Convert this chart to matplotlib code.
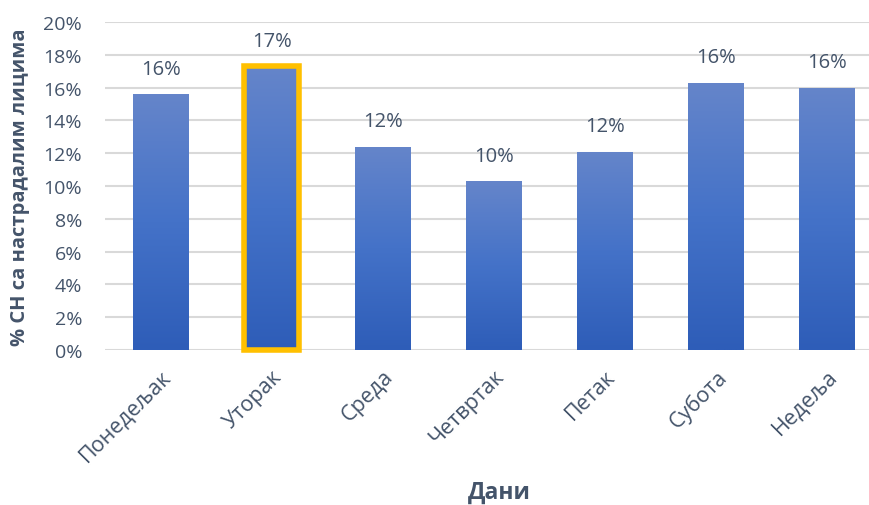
import matplotlib
matplotlib.use("Agg")
import matplotlib.pyplot as plt
import matplotlib.transforms as mtransforms
import numpy as np
from matplotlib.colors import LinearSegmentedColormap
from matplotlib.patches import Rectangle

days = ["Понедељак", "Уторак", "Среда", "Четвртак", "Петак", "Субота", "Недеља"]
values = [0.156, 0.173, 0.124, 0.103, 0.121, 0.163, 0.160]
labels = ["16%", "17%", "12%", "10%", "12%", "16%", "16%"]
highlight = 1

text_color = "#44546A"
plt.rcParams['font.family'] = ['Open Sans', 'DejaVu Sans']
FS = 14

fig = plt.figure(figsize=(8.69, 5.06), dpi=100)
W, H = 869, 506
ax = fig.add_axes([105 / W, 1 - 351 / H, (869 - 105) / W, (351 - 23) / H])

x = np.arange(len(days))
width = 0.5
cmap = LinearSegmentedColormap.from_list("g", ["#2E5DB8", "#4472C8", "#6585CA"])
grad = np.linspace(0, 1, 256).reshape(-1, 1)

bars = ax.bar(x, values, width=width, color="none", zorder=3)
for i, b in enumerate(bars):
    x0, y0 = b.get_x(), b.get_y()
    w, h = b.get_width(), b.get_height()
    im = ax.imshow(grad, cmap=cmap, aspect="auto", origin="lower",
                   extent=[x0, x0 + w, y0, y0 + h], zorder=3)
    clip = Rectangle((x0, y0), w, h, transform=ax.transData)
    im.set_clip_path(clip)
    if i == highlight:
        ax.add_patch(Rectangle((x0, y0), w, h, fill=False, edgecolor="#FFC000",
                               linewidth=4, zorder=4, clip_on=False))
    ax.text(x[i], values[i] + 0.0095, labels[i], ha="center", va="bottom",
            fontsize=FS + 0.5, color=text_color, zorder=5)

ax.set_xlim(-0.5, 6.377)
ax.set_ylim(0, 0.2)
yt = np.arange(0, 0.201, 0.02)
ax.set_yticks(yt)
ax.set_yticklabels([f"{int(round(v * 100))}%" for v in yt], fontsize=FS, color=text_color)
ax.set_xticks(x)
ax.set_xticklabels(days, rotation=45, ha="right", va="top", rotation_mode="anchor",
                   fontsize=15.5, color=text_color)
offset = mtransforms.ScaledTranslation(8 / 100, 0, fig.dpi_scale_trans)
for lab in ax.get_xticklabels():
    lab.set_transform(lab.get_transform() + offset)
ax.tick_params(axis="both", length=0)
ax.tick_params(axis="y", pad=16.5)
ax.tick_params(axis="x", pad=11)
ax.grid(axis="y", color="#D9D9D9", linewidth=1.5, zorder=0)
ax.set_axisbelow(True)
for s in ax.spines.values():
    s.set_visible(False)

fig.text(20 / W, 1 - 187 / H, "% СН са настрадалим лицима", rotation=90,
         ha="center", va="center", fontsize=14.5, fontweight="bold", color=text_color)
fig.text(499 / W, 1 - 493 / H, "Дани", ha="center", va="center",
         fontsize=16.5, fontweight="bold", color=text_color)

fig.savefig("out.png", dpi=100)
